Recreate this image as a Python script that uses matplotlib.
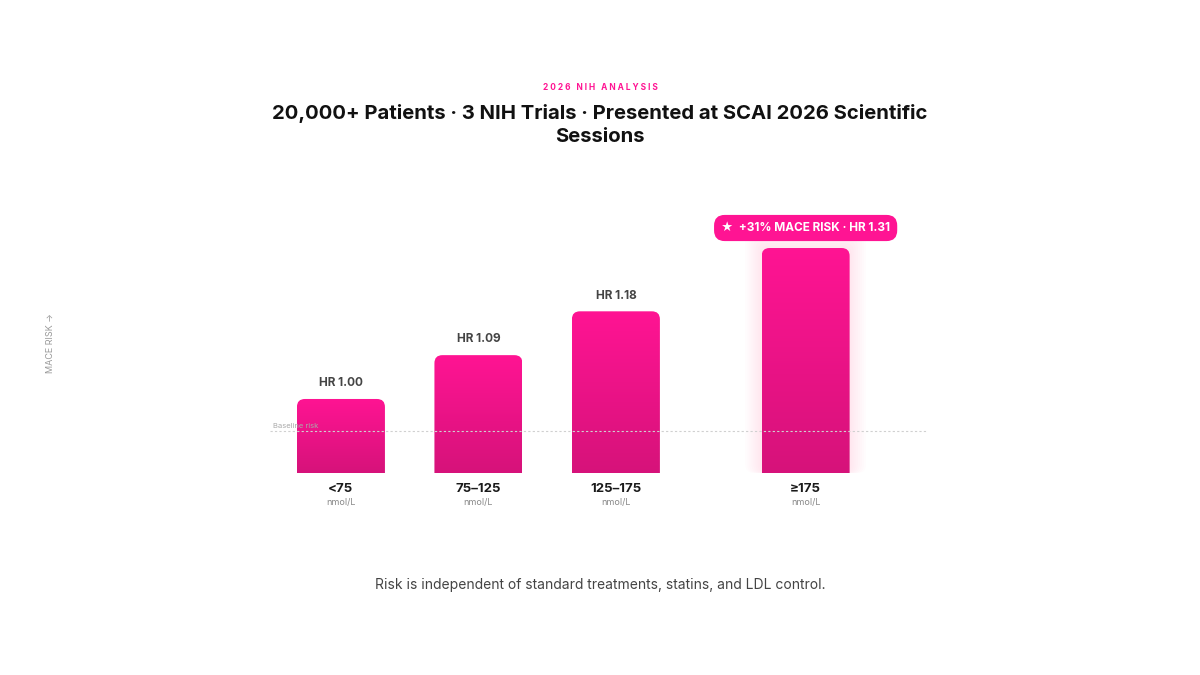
import matplotlib
matplotlib.use("Agg")
import matplotlib.pyplot as plt
import numpy as np
from matplotlib.patches import FancyBboxPatch
from matplotlib.colors import LinearSegmentedColormap

categories = ["<75", "75–125", "125–175", "≥175"]
hr_values = [1.00, 1.09, 1.18, 1.31]
hr_labels = ["HR 1.00", "HR 1.09", "HR 1.18", ""]
unit = "nmol/L"
badge_text = "★  +31% MACE RISK · HR 1.31"

plt.rcParams['font.family'] = ['Inter', 'DejaVu Sans']
fig = plt.figure(figsize=(12, 6.75), dpi=100)
fig.patch.set_facecolor("white")

scale = 487.0
base = 0.848
ax = fig.add_axes([270/1200, 1-473/675, (928-270)/1200, 273/675])
ax.set_xlim(-0.516, 4.27)
ax.set_ylim(base, base + 273/scale)
ax.axis("off")

xs = [0, 1, 2, 3.38]
w = 0.64
grad = np.linspace(0, 1, 256).reshape(-1, 1)
cmap = LinearSegmentedColormap.from_list("g", ["#d6127a", "#ff1493"])
for i, (x, v) in enumerate(zip(xs, hr_values)):
    if i == 3:
        for k in range(8, 0, -1):
            glow = FancyBboxPatch((x - w/2 - 0.015*k, base), w + 0.03*k, v - base + 0.005*k,
                                  boxstyle="round,pad=0,rounding_size=0.06", mutation_aspect=0.3,
                                  fc="#ff1493", ec="none", alpha=0.01, zorder=1)
            ax.add_patch(glow)
    p = FancyBboxPatch((x - w/2, base - 0.03), w, v - base + 0.03,
                       boxstyle="round,pad=0,rounding_size=0.058", mutation_aspect=0.282,
                       fc="none", ec="none", zorder=2)
    ax.add_patch(p)
    im = ax.imshow(grad, cmap=cmap, aspect="auto", origin="lower",
                   extent=(x - w/2, x + w/2, base, v), zorder=2)
    im.set_clip_path(p)
    if hr_labels[i]:
        ax.text(x, v + 0.02, hr_labels[i], ha="center", va="bottom", fontsize=8.5,
                fontweight="bold", color="#444444", zorder=3)
    ax.text(x, base - 0.021, categories[i], ha="center", va="top", fontsize=9.5,
            fontweight="bold", color="#1a1a1a", clip_on=False)
    ax.text(x, base - 0.052, unit, ha="center", va="top", fontsize=6.5,
            color="#888888", clip_on=False)

baseline_y = base + 42/scale
ax.axhline(baseline_y, color="#d0d0d0", lw=0.8, ls=(0, (2, 2)), zorder=3)
ax.text(0.02 - 0.516, baseline_y + 0.004, "Baseline risk", fontsize=5.5, color="#aaaaaa",
        ha="left", va="bottom", zorder=3)

ax.text(xs[3], base + (473-228)/scale, badge_text, ha="center", va="center", fontsize=8.5,
        fontweight="bold", color="white", zorder=5,
        bbox=dict(boxstyle="round,pad=0.6,rounding_size=0.9", fc="#ff1493", ec="none"))

fig.text(0.5, 1-87/675, "2 0 2 6   N I H   A N A L Y S I S", ha="center", va="center", fontsize=6,
         color="#ff1493", fontweight="bold")
fig.text(0.5, 1-125/675, "20,000+ Patients · 3 NIH Trials · Presented at SCAI 2026 Scientific\nSessions",
         ha="center", va="center", fontsize=14.6, fontweight="bold", color="#111111", linespacing=1.35)
fig.text(0.5, 1-585/675, "Risk is independent of standard treatments, statins, and LDL control.",
         ha="center", va="center", fontsize=10, color="#444444")
fig.text(50/1200, 1-343/675, "MACE RISK →", rotation=90, ha="center", va="center",
         fontsize=6.5, color="#999999")

fig.savefig("out.png", dpi=100, facecolor="white")
